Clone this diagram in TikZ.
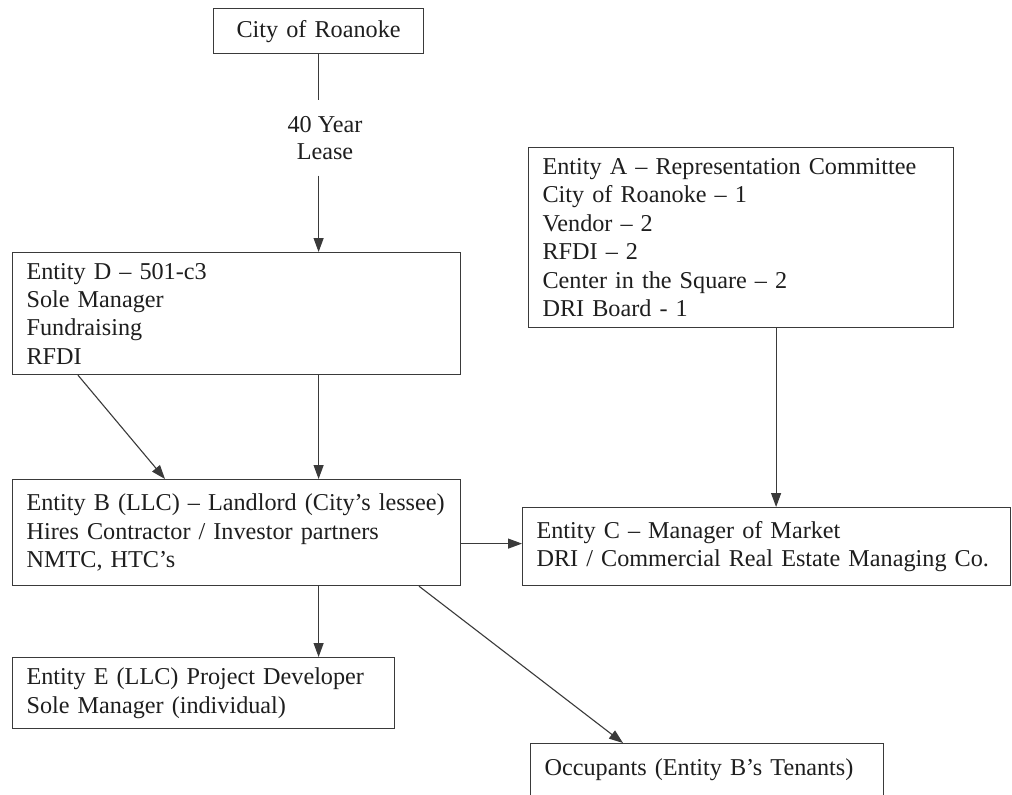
\documentclass[tikz,border=0pt]{standalone}
\usepackage{fontspec}
\setmainfont{Liberation Serif}
\usetikzlibrary{arrows.meta,calc}
\definecolor{ink}{HTML}{1E1E1E}
\definecolor{edge}{HTML}{3A3A3A}
\tikzset{
  box/.style={draw=edge, line width=1.2pt, rectangle, anchor=north west,
    inner xsep=14pt, inner ysep=0pt, align=left, text=ink,
    font=\fontsize{24.2}{28.4}\selectfont},
  conn/.style={draw=edge, line width=1.1pt, -{Triangle[length=14pt,width=10pt]}},
  plain/.style={draw=edge, line width=1.1pt}
}
\begin{document}
\begin{tikzpicture}[x=1pt,y=-1pt]
\useasboundingbox (0,0) rectangle (1012,795);
\fill[white] (0,0) rectangle (1012,795);

\node[box, align=center, minimum width=210pt, minimum height=45pt, text width=182pt] (city) at (213,8) {City of Roanoke};

\node[box, minimum width=448pt, minimum height=122pt, text width=420pt] (D) at (12,252)
  {Entity D -- 501-c3\\Sole Manager\\Fundraising\\RFDI};

\node[box, minimum width=425pt, minimum height=180pt, text width=397pt] (A) at (528,147)
  {Entity A -- Representation Committee\\City of Roanoke -- 1\\Vendor -- 2\\RFDI -- 2\\Center in the Square -- 2\\DRI Board - 1};

\node[box, minimum width=448pt, minimum height=106pt, text width=420pt] (B) at (12,479)
  {Entity B (LLC) -- Landlord (City’s lessee)\\Hires Contractor / Investor partners\\NMTC, HTC’s};

\node[box, minimum width=488pt, minimum height=78pt, text width=460pt, inner xsep=13pt] (C) at (522,507)
  {Entity C -- Manager of Market\\DRI / Commercial Real Estate Managing Co.};

\node[box, minimum width=382pt, minimum height=71pt, text width=354pt] (E) at (12,657)
  {Entity E (LLC) Project Developer\\Sole Manager (individual)};

\node[box, minimum width=353pt, text width=325pt, text height=32pt, text depth=38pt] (O) at (530,743)
  {Occupants (Entity B’s Tenants)};

\node[align=center, text=ink, font=\fontsize{24.2}{27}\selectfont, inner sep=0pt, minimum height=75pt] (lease) at (325,138) {40 Year\\Lease};

\draw[plain] (city.south) -- (city.south |- lease.north);
\draw[conn] (city.south |- lease.south) -- (city.south |- D.north);

\draw[conn] (city.south |- D.south) -- (city.south |- B.north);
\draw[conn] ($(D.south west)+(66,0)$) -- ($(B.north west)+(153,0)$);

\draw[conn] ($(A.south)+(35,0)$) coordinate (a1) -- (a1 |- C.north);
\draw[conn] ($(B.east)+(0,11)$) coordinate (b1) -- (b1 -| C.west);

\draw[conn] (city.south |- B.south) -- (city.south |- E.north);
\draw[conn] ($(B.south west)+(407,0)$) -- ($(O.north west)+(93,0)$);
\end{tikzpicture}
\end{document}
